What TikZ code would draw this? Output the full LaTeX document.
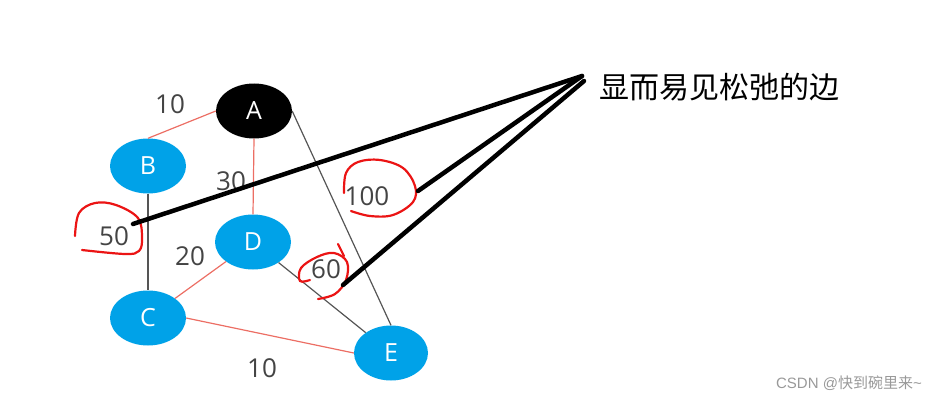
\documentclass[tikz,border=0pt]{standalone}
\usepackage{fontspec}
\setmainfont{Open Sans}
\newfontfamily\cjk{Noto Sans CJK SC}
\newfontfamily\wmfont{Liberation Sans}
\usetikzlibrary{shapes.geometric}

\definecolor{nodeblue}{RGB}{0,162,232}
\definecolor{edgered}{RGB}{236,110,100}
\definecolor{edgegray}{RGB}{85,85,85}
\definecolor{labelgray}{RGB}{68,68,68}
\definecolor{penred}{RGB}{235,20,20}

\begin{document}
\begin{tikzpicture}[x=1pt, y=-1pt,
	vertex/.style={ellipse, fill=nodeblue, text=white, minimum width=76pt, minimum height=55pt, inner sep=0pt, font=\fontsize{25}{29}\selectfont},
	weight/.style={text=labelgray, inner sep=1pt, font=\fontsize{26}{30}\selectfont},
	tree/.style={edgered, line width=1.2pt},
	other/.style={edgegray, line width=1.2pt},
	pen/.style={penred, line width=2.2pt, line cap=round},
	marker/.style={black, line width=4.5pt, line cap=round}]
	\useasboundingbox (0, 0) rectangle (940, 404);

	\node[vertex, fill=black] (a) at (254, 111)	{A};
	\node[vertex] (b) at (148, 166)	{B};
	\node[vertex] (d) at (253, 242)	{D};
	\node[vertex] (c) at (148, 318)	{C};
	\node[vertex, minimum width=74pt] (e) at (391, 353)	{E};

	\node[weight] (w1) at (170, 104)	{10};
	\node[weight] (w2) at (231, 181)	{30};
	\node[weight] (w3) at (114, 236)	{50};
	\node[weight] (w4) at (190, 256)	{20};
	\node[weight] (w5) at (367, 196)	{100};
	\node[weight] (w6) at (326, 269)	{60};
	\node[weight] (w7) at (262, 368)	{10};

	\draw[tree] (a.west) -- (b.north);
	\draw[tree] (a.south) -- (d.north);
	\draw[tree] (d) -- (c);
	\draw[tree] (c.east) -- (e.west);
	\draw[other] (a.east) -- (e.north);
	\draw[other] (b.south) -- (c.north);
	\draw[other] (d) -- (e);

	% hand drawn circles
	\draw[pen] plot[smooth, tension=0.6] coordinates {(75, 236) (79, 213) (95, 203) (116, 205) (138, 218) (142, 238) (139, 251) (125, 254) (82, 250)};
	\draw[pen] plot[smooth, tension=0.6] coordinates {(344, 193) (346, 173) (358, 162) (380, 160) (403, 168) (415, 186) (413, 202) (393, 215) (370, 216) (351, 211)};
	\draw[pen] plot[smooth, tension=0.6] coordinates {(310, 280) (300, 281) (301, 268) (317, 257) (334, 253) (347, 262) (346, 280) (335, 294) (318, 299)};
	\draw[pen] (338, 244) -- (344, 256);

	\node[font=\cjk\fontsize{30}{35}\selectfont, anchor=west, inner sep=0pt] (note) at (599, 87) {显而易见松弛的边};
	\coordinate (t1) at (582, 76);
	\coordinate (t2) at (584, 81);

	\draw[marker] (t1) -- (133, 224);
	\draw[marker] (t1) -- (418, 191);
	\draw[marker] (t2) -- (343, 285);

	\node[font=\wmfont\fontsize{15}{18}\selectfont, text=black!40, anchor=east, inner sep=0pt] (mark) at (922, 383) {CSDN @\cjk 快到碗里来\wmfont\textasciitilde};
\end{tikzpicture}
\end{document}
